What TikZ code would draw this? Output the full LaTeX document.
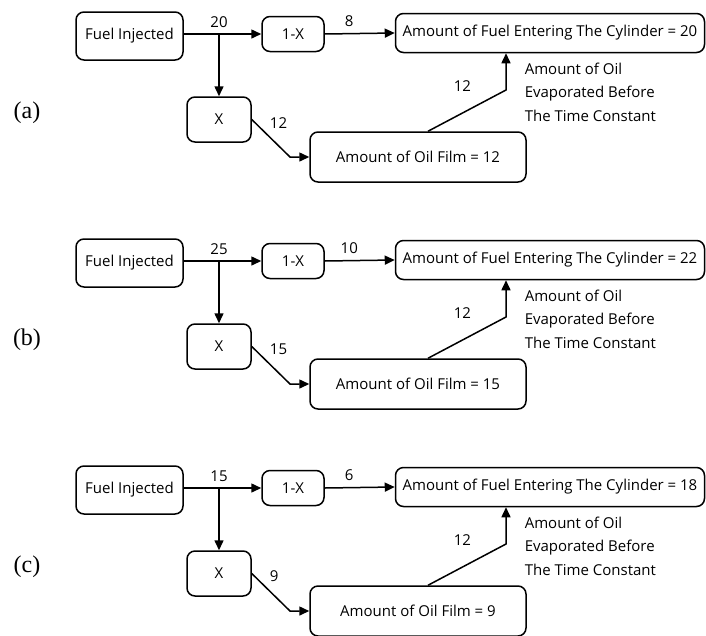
\documentclass[tikz,border=0pt]{standalone}
\usepackage{fontspec}
\setmainfont{Open Sans}
\newfontfamily\panelfont{Liberation Serif}
\usetikzlibrary{arrows.meta}

\begin{document}
\begin{tikzpicture}[x=1pt,y=-1pt,>={Triangle[length=10pt,width=9pt]},line width=1.5pt,
    box/.style={draw,rounded corners=8pt,inner sep=0pt,font=\fontsize{15}{18}\selectfont},
    lbl/.style={inner sep=0pt,font=\fontsize{15}{18}\selectfont},
    panel/.style={inner sep=0pt,font=\panelfont\fontsize{24}{28}\selectfont}]

    \useasboundingbox (0,0) rectangle (706,635);

    \foreach \lab/\yo/\inj/\one/\ex/\cyl in {a/0/20/8/12/20, b/227/25/10/15/22, c/454/15/6/9/18}{
    \begin{scope}[shift={(0,\yo)}]
        \node[box,minimum width=107pt,minimum height=48pt] (fuel\lab) at (129.5,36) {Fuel Injected};
        \node[box,minimum width=62pt,minimum height=35pt] (onex\lab) at (293,34) {1-X};
        \node[box,minimum width=64pt,minimum height=45pt] (xb\lab) at (219,119.5) {X};
        \node[box,minimum width=216pt,minimum height=50pt] (film\lab) at (418,157) {Amount of Oil Film = \ex};
        \node[box,minimum width=309pt,minimum height=39pt] (cyl\lab) at (550,33) {Amount of Fuel Entering The Cylinder = \cyl};
        \node[panel] (tag\lab) at (27,112.5) {(\lab)};
        \node[lbl,anchor=north west,align=left,font=\fontsize{15}{23.5}\selectfont] (evap\lab) at (524,62)
            {Amount of Oil\\Evaporated Before\\The Time Constant};

        \coordinate (split\lab) at (219,34);
        \coordinate (dip\lab) at (290,157);
        \coordinate (bend\lab) at (506,90);

        \draw (fuel\lab.east |- split\lab) -- (split\lab) node[lbl,above=6pt] {\inj};
        \draw[->] (split\lab) -- (onex\lab.west);
        \draw[->] (split\lab) -- (xb\lab.north);
        \draw[->] (onex\lab.east) -- node[lbl,above=6pt,pos=0.35] {\one} (cyl\lab.west);
        \draw[->] (xb\lab.east) -- node[lbl,pos=0.3,anchor=south west,xshift=6pt,yshift=2pt] {\ex}
            (dip\lab) -- (film\lab.west);
        \draw[->] ([xshift=10pt]film\lab.north) -- node[lbl,pos=0.6,anchor=south east,xshift=-3pt,yshift=14pt] {12}
            (bend\lab) -- (bend\lab |- cyl\lab.south);
    \end{scope}
    }
\end{tikzpicture}
\end{document}
